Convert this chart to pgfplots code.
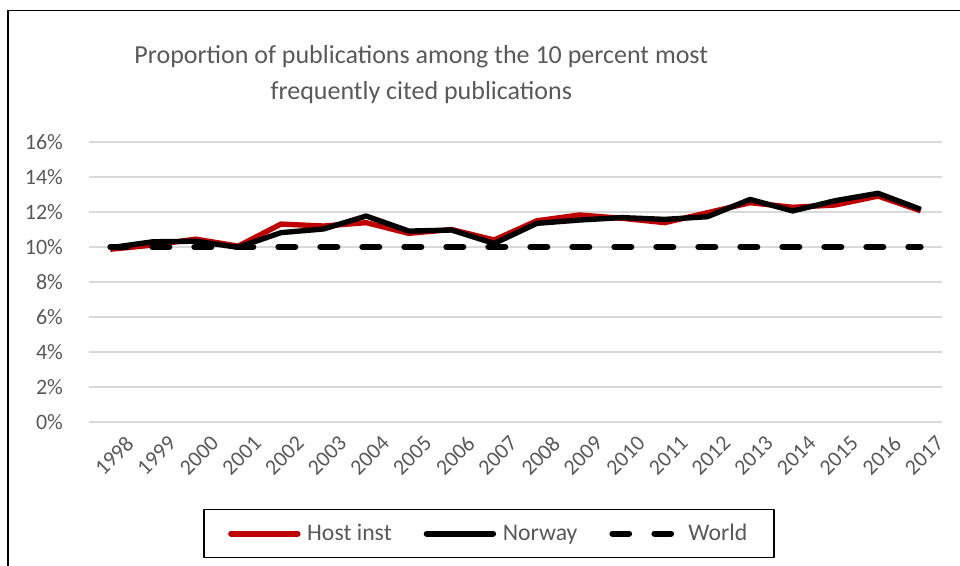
\documentclass[border=0pt]{standalone}
\usepackage{pgfplots}
\pgfplotsset{compat=1.18}
\usepackage{fontspec}
\setmainfont{Carlito}
\definecolor{txtgray}{HTML}{595959}
\definecolor{gridgray}{HTML}{D9D9D9}
\definecolor{hostred}{HTML}{C00000}
\begin{document}
\begin{tikzpicture}
\useasboundingbox (0pt,0pt) rectangle (720pt,423.75pt);
% chart frame (left and top edges visible)
\draw[black,line width=1pt] (6pt,-5pt) -- (6pt,416pt) -- (725pt,416pt);
\node[text=txtgray,font=\fontsize{19.5}{27}\selectfont,align=center] at (316pt,368pt) {Proportion of publications among the 10 percent most\\frequently cited publications};
\begin{axis}[
    at={(66.75pt,107.25pt)}, anchor=south west,
    scale only axis,
    width=639.75pt, height=210pt,
    xmin=-0.5, xmax=19.5,
    ymin=0, ymax=16,
    xtick={0,...,19},
    xticklabels={1998,1999,2000,2001,2002,2003,2004,2005,2006,2007,2008,2009,2010,2011,2012,2013,2014,2015,2016,2017},
    x tick label style={rotate=45,anchor=north east,inner sep=1pt,xshift=2pt,yshift=-13pt},
    ytick={0,2,...,16},
    yticklabel={\pgfmathprintnumber{\tick}\%},
    y tick label style={xshift=-16pt},
    /pgf/number format/assume math mode=true,
    ticklabel style={text=txtgray,font=\fontsize{16.5}{18}\selectfont},
    ymajorgrids, grid style={gridgray,line width=0.9pt},
    axis line style={draw=none},
    major tick length=0pt,
    legend style={at={(0.469,-0.311)},anchor=north,legend columns=-1,draw=black,line width=1pt,
        font=\fontsize{17.8}{20}\selectfont,text=txtgray,inner xsep=18pt,inner ysep=9pt,
        /tikz/every odd column/.append style={column sep=3pt},
        /tikz/every even column/.append style={column sep=22pt}},
    legend image code/.code={\draw[#1,line width=4.3pt,line cap=round] (0pt,0pt) -- (50pt,0pt);},
    line join=round,
]
\addplot[hostred,line width=4pt] coordinates {
(0,9.87) (1,10.11) (2,10.45) (3,10.05) (4,11.31) (5,11.2) (6,11.39) (7,10.78) (8,11.0) (9,10.4)
(10,11.5) (11,11.83) (12,11.64) (13,11.39) (14,11.96) (15,12.53) (16,12.27) (17,12.4) (18,12.91) (19,12.07)};
\addlegendentry{Host inst}
\addplot[black,line width=4pt] coordinates {
(0,9.96) (1,10.3) (2,10.33) (3,9.98) (4,10.82) (5,11.03) (6,11.77) (7,10.91) (8,10.97) (9,10.2)
(10,11.35) (11,11.54) (12,11.68) (13,11.58) (14,11.73) (15,12.72) (16,12.06) (17,12.65) (18,13.07) (19,12.15)};
\addlegendentry{Norway}
\addplot[black,line width=4.5pt,dash pattern=on 12.75pt off 18.75pt,line cap=round] coordinates {
(0,10) (1,10) (2,10) (3,10) (4,10) (5,10) (6,10) (7,10) (8,10) (9,10)
(10,10) (11,10) (12,10) (13,10) (14,10) (15,10) (16,10) (17,10) (18,10) (19,10)};
\addlegendentry{World}
\end{axis}
\end{tikzpicture}
\end{document}
